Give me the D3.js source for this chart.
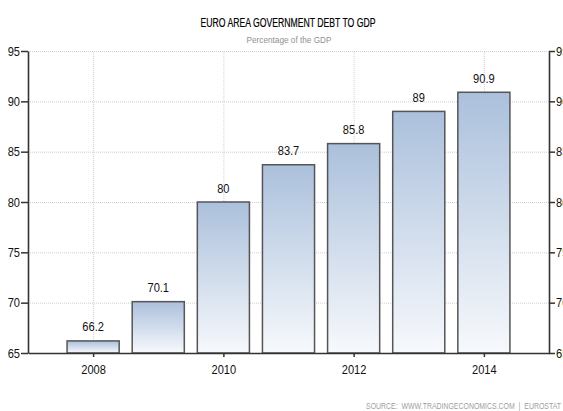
<!DOCTYPE html>
<html><head><meta charset="utf-8">
<script src="https://cdn.jsdelivr.net/npm/d3@7"></script>
<style>html,body{margin:0;padding:0;background:#fff;} svg{display:block;}</style>
</head><body>
<svg id="chart" width="563" height="411"></svg>
<script>
// Data
const years = [2008, 2009, 2010, 2011, 2012, 2013, 2014];
const debtToGdp = [66.2, 70.1, 80, 83.7, 85.8, 89, 90.9];
const yTicks = [65, 70, 75, 80, 85, 90, 95];
const xTicks = [2008, 2010, 2012, 2014];
const titleText = "EURO AREA GOVERNMENT DEBT TO GDP";
const subtitleText = "Percentage of the GDP";
const sourceText = "SOURCE:  WWW.TRADINGECONOMICS.COM  |  EUROSTAT";

const FONT = "'Liberation Sans Narrow', 'Liberation Sans', Arial, sans-serif";
const svg = d3.select("#chart");
const plot = {left: 28, right: 549, top: 51, bottom: 353};
const x = d3.scaleLinear().domain([2007, 2015]).range([plot.left, plot.right]);
const y = d3.scaleLinear().domain([65, 95]).range([plot.bottom, plot.top]);
const barW = x(2007.8) - x(2007);

// squeeze text horizontally to get the narrow look
function condense(sel, factor) {
  sel.each(function () {
    const w = this.getComputedTextLength();
    d3.select(this).attr("textLength", w * factor).attr("lengthAdjust", "spacingAndGlyphs");
  });
}

// bar gradient
const grad = svg.append("defs").append("linearGradient")
  .attr("id", "barFill").attr("x1", 0).attr("y1", 0).attr("x2", 0).attr("y2", 1);
grad.append("stop").attr("offset", "0%").attr("stop-color", "#abc0dc");
grad.append("stop").attr("offset", "100%").attr("stop-color", "#f7f9fc");

// horizontal grid
svg.append("g").attr("class", "grid")
  .attr("transform", `translate(${plot.left},0)`)
  .call(d3.axisLeft(y).tickValues(yTicks.slice(1)).tickSize(-(plot.right - plot.left)).tickFormat(""))
  .call(g => g.select(".domain").remove());
// vertical grid
svg.append("g").attr("class", "grid")
  .attr("transform", `translate(0,${plot.bottom})`)
  .call(d3.axisBottom(x).tickValues(xTicks).tickSize(-(plot.bottom - plot.top)).tickFormat(""))
  .call(g => g.select(".domain").remove());
svg.selectAll(".grid line")
  .attr("stroke", "#cfcfcf").attr("stroke-width", 1).attr("stroke-dasharray", "1,1");

// bars
const rows = years.map((yr, i) => ({year: yr, value: debtToGdp[i]}));
svg.append("g").selectAll("rect").data(rows).join("rect")
  .attr("x", d => x(d.year) - barW / 2)
  .attr("y", d => y(d.value))
  .attr("width", barW)
  .attr("height", d => y(65) - y(d.value))
  .attr("fill", "url(#barFill)")
  .attr("stroke", "#555")
  .attr("stroke-width", 1.5);

// value labels
svg.append("g").selectAll("text").data(rows).join("text")
  .attr("x", d => x(d.year))
  .attr("y", d => y(d.value) - 9.5)
  .attr("text-anchor", "middle")
  .attr("font-family", FONT).attr("font-size", 13.5)
  .attr("fill", "#111")
  .text(d => d.value)
  .call(condense, 0.82);

// axes
const axisStyle = g => {
  g.select(".domain").attr("stroke", "#333").attr("stroke-width", 1.6);
  g.selectAll(".tick line").attr("stroke", "#333").attr("stroke-width", 1.5);
  g.selectAll(".tick text").attr("font-family", FONT).attr("font-size", 13.5).attr("fill", "#111");
};
svg.append("g")
  .attr("transform", `translate(${plot.left},0)`)
  .call(d3.axisLeft(y).tickValues(yTicks).tickSize(7).tickSizeOuter(0).tickPadding(1))
  .call(axisStyle)
  .call(g => g.selectAll(".tick text").call(condense, 0.82));
svg.append("g")
  .attr("transform", `translate(${plot.right},0)`)
  .call(d3.axisRight(y).tickValues(yTicks).tickSize(6).tickSizeOuter(0).tickPadding(1))
  .call(axisStyle)
  .call(g => g.selectAll(".tick text").call(condense, 0.82));
svg.append("g")
  .attr("transform", `translate(0,${plot.bottom})`)
  .call(d3.axisBottom(x).tickValues(xTicks).tickSize(4).tickSizeOuter(0).tickPadding(7).tickFormat(d3.format("d")))
  .call(axisStyle)
  .call(g => g.selectAll(".tick text").call(condense, 0.82));

// titles
svg.append("text")
  .attr("x", 288).attr("y", 26.7).attr("text-anchor", "middle")
  .attr("font-family", FONT).attr("font-size", 12.5).attr("fill", "#000")
  .attr("stroke", "#000").attr("stroke-width", 0.2)
  .attr("textLength", 175).attr("lengthAdjust", "spacingAndGlyphs")
  .text(titleText);
svg.append("text")
  .attr("x", 289).attr("y", 42.5).attr("text-anchor", "middle")
  .attr("font-family", FONT).attr("font-size", 8.5).attr("fill", "#909090")
  .attr("textLength", 85).attr("lengthAdjust", "spacingAndGlyphs")
  .text(subtitleText);
svg.append("text")
  .attr("x", 366).attr("y", 409).attr("text-anchor", "start")
  .attr("font-family", FONT).attr("font-size", 8.5).attr("fill", "#a0a0a0")
  .attr("textLength", 195).attr("lengthAdjust", "spacingAndGlyphs")
  .attr("xml:space", "preserve")
  .text(sourceText);
</script>
</body></html>
